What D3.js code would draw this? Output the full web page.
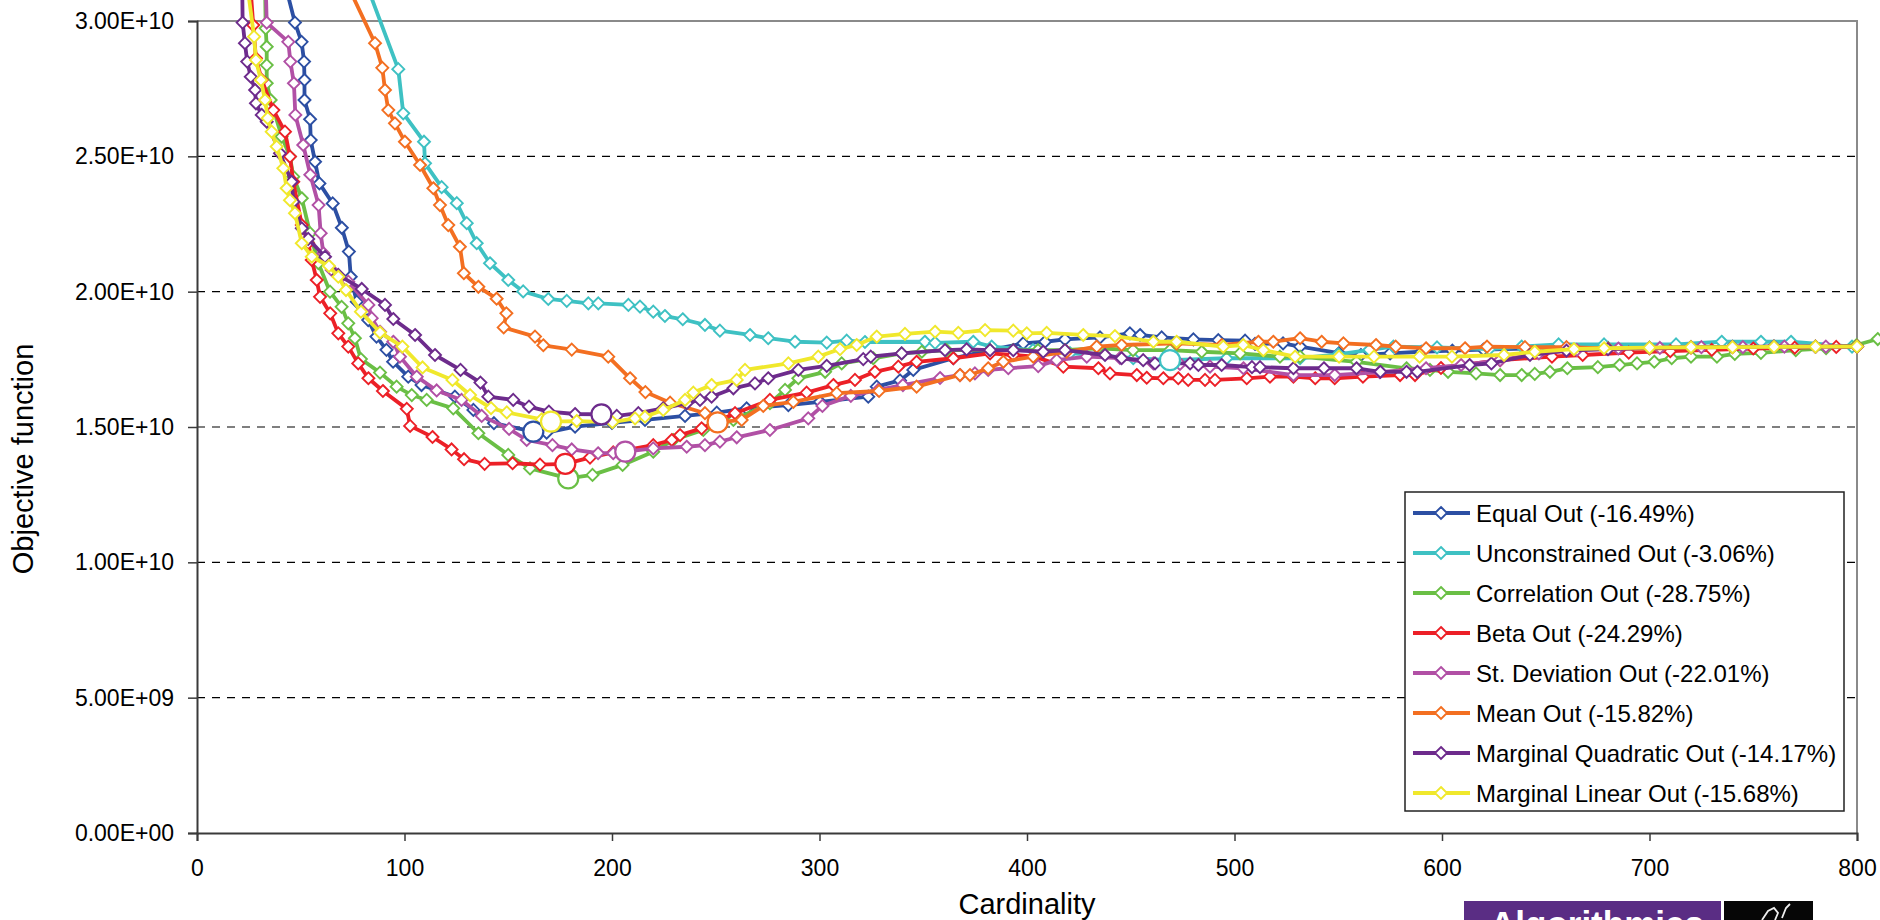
<!DOCTYPE html>
<html>
<head>
<meta charset="utf-8">
<script src="https://cdn.jsdelivr.net/npm/d3@7"></script>
<style>
  body { margin: 0; background: #fff; }
  svg { display: block; font-family: 'Liberation Sans', Arial, sans-serif; }
</style>
</head>
<body>
<svg width="1880" height="920"></svg>
<script>
// values are in units of 1e10, cardinality on x
var equalOut = [[37, 3.3], [47.2, 2.994], [50.4, 2.923], [51.6, 2.85], [51.8, 2.782], [51.8, 2.708], [54.5, 2.637], [54.8, 2.56], [56.9, 2.48], [59, 2.4], [65.4, 2.326], [69.8, 2.236], [73.2, 2.148], [74.1, 2.055], [77, 1.963], [82.5, 1.895], [86.5, 1.834], [91.3, 1.785], [94.5, 1.741], [101.8, 1.686], [108.2, 1.655], [124.3, 1.612], [133.2, 1.563], [143.1, 1.514], [162.1, 1.483], [168.5, 1.479], [182.2, 1.501], [200, 1.515], [215.9, 1.526], [235.2, 1.541], [250.5, 1.553], [264.9, 1.569], [285, 1.581], [300.2, 1.593], [323.5, 1.612], [327.6, 1.649], [338.8, 1.672], [345.2, 1.711], [364.5, 1.754], [382.2, 1.784], [398.2, 1.809], [408.7, 1.815], [418.3, 1.824], [435.2, 1.831], [449.6, 1.846], [454.5, 1.84], [464.9, 1.831], [480.2, 1.824], [492.2, 1.821], [505.1, 1.819], [509.9, 1.807], [523.4, 1.809], [531.6, 1.797], [550.4, 1.773], [560.9, 1.766], [575, 1.772], [590, 1.778], [605, 1.782], [620, 1.786], [640, 1.79], [660, 1.79], [680, 1.792], [700, 1.793], [720, 1.795], [740, 1.796], [760, 1.797], [780, 1.797], [800, 1.798]]

var unconstrainedOut = [[73.6, 3.3], [97, 2.822], [99.4, 2.659], [109.4, 2.554], [109.9, 2.474], [117.9, 2.386], [125.2, 2.327], [130, 2.253], [134.8, 2.179], [141.2, 2.105], [150, 2.043], [157.2, 2.001], [169.3, 1.973], [178.2, 1.966], [188.6, 1.957], [193.4, 1.957], [207.9, 1.951], [213.5, 1.945], [219.9, 1.926], [225.5, 1.91], [234.1, 1.898], [244.8, 1.877], [252, 1.856], [266.5, 1.84], [275.3, 1.828], [288.2, 1.815], [303.5, 1.812], [313.1, 1.819], [321.9, 1.814], [350.8, 1.815], [355.7, 1.811], [374.1, 1.815], [383, 1.797], [402.9, 1.784], [420.7, 1.773], [451.2, 1.754], [468.9, 1.747], [496.2, 1.754], [531.6, 1.754], [550, 1.768], [565, 1.785], [576.6, 1.797], [597.6, 1.794], [622.7, 1.788], [638.4, 1.797], [656.2, 1.805], [678.1, 1.805], [712.8, 1.805], [734.8, 1.815], [753.7, 1.815], [768.2, 1.815], [797.6, 1.797]]

var correlationOut = [[32.5, 3.3], [33.1, 2.973], [33.6, 2.905], [33.6, 2.837], [33.6, 2.77], [35.5, 2.708], [40.8, 2.573], [44.8, 2.499], [46.4, 2.425], [50.5, 2.345], [54.5, 2.216], [58.5, 2.105], [64.1, 2.0], [69.7, 1.944], [72.9, 1.883], [76.1, 1.828], [79, 1.751], [88.2, 1.701], [96.2, 1.649], [103.5, 1.618], [110.7, 1.6], [123.5, 1.569], [135.6, 1.477], [150, 1.397], [160.5, 1.347], [178.9, 1.31], [190.6, 1.323], [205.1, 1.36], [219.9, 1.409], [229.5, 1.452], [244, 1.489], [258.5, 1.526], [276.1, 1.588], [283.4, 1.637], [289.8, 1.68], [302.7, 1.704], [310.7, 1.735], [325.9, 1.754], [339.6, 1.772], [349.3, 1.778], [361.3, 1.784], [382.2, 1.784], [393.3, 1.784], [405.3, 1.784], [418.3, 1.784], [434.2, 1.791], [451.1, 1.784], [468.9, 1.784], [484.2, 1.778], [502.7, 1.772], [521.9, 1.76], [531.6, 1.76], [558.8, 1.741], [582.9, 1.717], [594.2, 1.711], [602.9, 1.704], [616.4, 1.698], [628, 1.692], [638.4, 1.692], [644.7, 1.696], [652, 1.704], [660.4, 1.717], [675.1, 1.721], [685.6, 1.729], [694, 1.735], [702.3, 1.741], [710.7, 1.754], [720, 1.76], [732.5, 1.76], [741.1, 1.77], [753.7, 1.774], [770.5, 1.784], [785.1, 1.791], [799.8, 1.803], [810, 1.825]]

var betaOut = [[24.1, 3.3], [27.1, 2.985], [28.4, 2.862], [31.2, 2.782], [36.8, 2.671], [42.4, 2.591], [44.8, 2.499], [46.4, 2.406], [50.5, 2.246], [53.6, 2.179], [55.3, 2.117], [57.7, 2.043], [59.3, 1.981], [64.2, 1.92], [68.1, 1.846], [72.9, 1.797], [77.7, 1.735], [82.6, 1.68], [89.6, 1.633], [101.1, 1.567], [102.7, 1.504], [113.5, 1.463], [122.7, 1.417], [128.7, 1.381], [138.6, 1.364], [152.1, 1.366], [165.3, 1.361], [177.5, 1.364], [189.4, 1.387], [200.6, 1.406], [219.9, 1.433], [228.8, 1.452], [232.8, 1.47], [243.2, 1.495], [259.3, 1.551], [276.1, 1.6], [293.8, 1.627], [306.7, 1.655], [317.1, 1.674], [326.7, 1.704], [338, 1.723], [346.8, 1.741], [364.5, 1.754], [382.2, 1.772], [393.4, 1.766], [403.9, 1.76], [417.5, 1.723], [434.4, 1.717], [440, 1.698], [452.9, 1.692], [457.7, 1.682], [465.7, 1.68], [472.9, 1.68], [477.7, 1.674], [485.8, 1.674], [490.6, 1.674], [505.9, 1.68], [517.1, 1.686], [528.4, 1.686], [538.9, 1.68], [548.3, 1.68], [561.9, 1.686], [579.8, 1.692], [587, 1.692], [599.5, 1.718], [628, 1.747], [653, 1.76], [667.8, 1.766], [690, 1.775], [710, 1.78], [730, 1.785], [750, 1.79], [770, 1.793], [790, 1.796], [800, 1.797]]

var stDeviationOut = [[32.5, 3.3], [33.6, 2.994], [44, 2.923], [45, 2.85], [46.7, 2.77], [47.4, 2.653], [51.2, 2.542], [54.6, 2.432], [58.6, 2.32], [59.6, 2.216], [60.9, 2.142], [64.9, 2.08], [72.9, 2.037], [82.6, 1.951], [84.2, 1.902], [88.2, 1.852], [94.6, 1.815], [97.8, 1.76], [105.9, 1.686], [115.5, 1.635], [127.5, 1.6], [137.2, 1.541], [150.4, 1.493], [158.9, 1.452], [171.3, 1.433], [180.6, 1.417], [193.3, 1.403], [200.6, 1.403], [206.4, 1.409], [219.9, 1.421], [236, 1.427], [244.8, 1.433], [252, 1.446], [260.1, 1.462], [276.1, 1.489], [294.6, 1.532], [301.4, 1.578], [315.1, 1.615], [328.3, 1.637], [340.2, 1.655], [358.1, 1.681], [367.7, 1.692], [374.9, 1.698], [381.3, 1.711], [391, 1.717], [405.4, 1.725], [414.3, 1.747], [428.8, 1.76], [444.8, 1.755], [460.9, 1.735], [473.7, 1.733], [488.2, 1.723], [504.3, 1.717], [528.4, 1.692], [548.3, 1.692], [570, 1.703], [592.3, 1.717], [609.2, 1.729], [628, 1.747], [646.7, 1.772], [665, 1.785], [685, 1.79], [705, 1.792], [725, 1.795], [745, 1.795], [765, 1.797], [785, 1.797], [800, 1.797]]

var meanOut = [[62.2, 3.3], [85.8, 2.918], [89.3, 2.827], [90.6, 2.745], [92.2, 2.671], [95.4, 2.622], [100.2, 2.554], [107.5, 2.468], [113.9, 2.382], [117.1, 2.32], [121.1, 2.246], [126.7, 2.166], [128.6, 2.068], [135.6, 2.018], [144.4, 1.974], [149.1, 1.92], [147.8, 1.868], [162.9, 1.834], [166.9, 1.802], [180.6, 1.786], [198.2, 1.76], [208.7, 1.68], [216.1, 1.629], [228, 1.59], [244.8, 1.551], [250.9, 1.517], [262.5, 1.526], [272.9, 1.578], [287.4, 1.593], [308.3, 1.625], [328.7, 1.633], [346.8, 1.649], [367.7, 1.692], [372.5, 1.692], [381.3, 1.717], [388.6, 1.741], [403, 1.76], [419.1, 1.778], [433.6, 1.797], [445.6, 1.803], [472.1, 1.809], [493.8, 1.803], [511.5, 1.815], [518.7, 1.815], [531.6, 1.828], [542, 1.815], [552.5, 1.809], [568.2, 1.803], [577.7, 1.797], [592.3, 1.791], [611.1, 1.791], [621.7, 1.797], [640, 1.795], [660, 1.795], [680, 1.79], [700, 1.79], [720, 1.793], [740, 1.795], [760, 1.797], [780, 1.797], [800, 1.797]]

var marginalQuadraticOut = [[21.5, 3.3], [22, 2.994], [23.1, 2.918], [24.2, 2.85], [25.9, 2.794], [28, 2.745], [28.4, 2.696], [31.2, 2.653], [33.6, 2.628], [40, 2.511], [45.6, 2.406], [46.4, 2.332], [50.5, 2.234], [53.6, 2.195], [61.7, 2.129], [68.1, 2.062], [79.4, 2.01], [90.6, 1.951], [94.6, 1.899], [105.1, 1.84], [114.7, 1.766], [127, 1.711], [136.6, 1.664], [140.4, 1.612], [152.4, 1.6], [160, 1.575], [169.6, 1.557], [182.2, 1.548], [194.9, 1.547], [202.3, 1.541], [212.7, 1.551], [224.7, 1.569], [236, 1.588], [242.4, 1.6], [248, 1.612], [258.5, 1.643], [268.9, 1.661], [275.3, 1.68], [289.8, 1.711], [303.5, 1.726], [321.1, 1.751], [324.7, 1.76], [339.6, 1.772], [360.5, 1.784], [370.9, 1.787], [382.2, 1.784], [393.4, 1.784], [407.8, 1.778], [418.3, 1.784], [437.6, 1.766], [445.6, 1.754], [456, 1.747], [461.7, 1.735], [478.6, 1.735], [482.6, 1.729], [493.8, 1.729], [508.4, 1.721], [512.3, 1.721], [528.4, 1.717], [543.1, 1.717], [558.8, 1.717], [570.3, 1.704], [582.9, 1.704], [588.1, 1.704], [613.3, 1.729], [623.8, 1.735], [642.4, 1.766], [660, 1.782], [680, 1.788], [700, 1.792], [720, 1.795], [740, 1.796], [760, 1.797], [780, 1.797], [800, 1.797]]

var marginalLinearOut = [[21.4, 3.3], [27.5, 2.942], [28.4, 2.856], [30.8, 2.782], [32.8, 2.708], [34.1, 2.641], [36, 2.591], [38.4, 2.536], [41.6, 2.456], [43.2, 2.382], [44.8, 2.338], [47.2, 2.29], [50.5, 2.179], [55.3, 2.129], [63.6, 2.095], [68.1, 2.055], [71.8, 2.006], [79, 1.926], [88.2, 1.849], [99, 1.797], [108.7, 1.72], [123.1, 1.674], [131.6, 1.618], [141.7, 1.57], [149.3, 1.554], [166.1, 1.528], [170.6, 1.52], [183, 1.522], [200.2, 1.518], [211.1, 1.532], [215.9, 1.538], [224.7, 1.563], [235.2, 1.6], [239.2, 1.627], [248, 1.655], [260.1, 1.674], [264.1, 1.711], [285, 1.735], [299.4, 1.76], [309.9, 1.788], [317.9, 1.803], [327.6, 1.834], [341.2, 1.844], [355.7, 1.852], [366.9, 1.848], [379.8, 1.858], [393.4, 1.856], [399.9, 1.846], [409.5, 1.848], [427.1, 1.84], [442.4, 1.836], [460.9, 1.815], [472.1, 1.815], [494.6, 1.797], [504.2, 1.803], [513.9, 1.784], [529.2, 1.76], [550.4, 1.76], [567.2, 1.76], [589.2, 1.76], [604.8, 1.76], [629.9, 1.766], [644.7, 1.778], [663.6, 1.788], [678.1, 1.791], [700, 1.793], [720, 1.795], [740, 1.795], [760, 1.796], [780, 1.797], [800, 1.797]]

var seriesNames = ['Equal Out (-16.49%)', 'Unconstrained Out (-3.06%)', 'Correlation Out (-28.75%)', 'Beta Out (-24.29%)',
  'St. Deviation Out (-22.01%)', 'Mean Out (-15.82%)', 'Marginal Quadratic Out (-14.17%)', 'Marginal Linear Out (-15.68%)']
var seriesColors = ['#2c4fa3', '#3ec1c3', '#6abf45', '#ec2027', '#b150a5', '#f36f21', '#6d2b8c', '#f0e82c']

// minimum of each series, marked with a circle
var bestCard = [162.1, 468.9, 178.9, 177.5, 206.4, 250.9, 194.9, 170.6]
var bestValue = [1.483, 1.747, 1.31, 1.364, 1.409, 1.517, 1.547, 1.52]

var xTicks = [0, 100, 200, 300, 400, 500, 600, 700, 800]
var yTicks = [0, 0.5, 1, 1.5, 2, 2.5, 3]

var allData = [equalOut, unconstrainedOut, correlationOut, betaOut, stDeviationOut, meanOut, marginalQuadraticOut, marginalLinearOut]
var series = allData.map((d, i) => ({ name: seriesNames[i], color: seriesColors[i], pts: d, best: [bestCard[i], bestValue[i]] }))

var svg = d3.select('svg')
var plotL = 197
var plotR = 1857
var plotT = 21
var plotB = 833

var x = d3.scaleLinear().domain([0, 800]).range([plotL, plotR])
var y = d3.scaleLinear().domain([0, 3]).range([plotB, plotT])

function sci (v) {
  var s = (v * 1e10).toExponential(2).toUpperCase()
  return s.replace(/E([+-])(\d+)$/, (m, sg, e) => 'E' + sg + (e.length < 2 ? '0' + e : e))
}

// dashed grid
svg.append('g')
  .selectAll('line')
  .data(yTicks.filter((t) => t > 0 && t < 3))
  .enter().append('line')
  .attr('x1', plotL).attr('x2', plotR)
  .attr('y1', (d) => y(d)).attr('y2', (d) => y(d))
  .style('stroke', '#000')
  .style('stroke-width', 1.2)
  .style('stroke-dasharray', '8,7')

// top and right plot border
svg.append('path')
  .attr('d', 'M' + plotL + ',' + plotT + 'H' + plotR + 'V' + plotB)
  .style('fill', 'none')
  .style('stroke', '#8a8a8a')
  .style('stroke-width', 2)

var yAxis = svg.append('g')
  .attr('transform', 'translate(' + plotL + ',0)')
  .call(d3.axisLeft(y).tickValues(yTicks).tickSize(9).tickPadding(14).tickFormat(sci))

var xAxis = svg.append('g')
  .attr('transform', 'translate(0,' + plotB + ')')
  .call(d3.axisBottom(x).tickValues(xTicks).tickSize(8).tickPadding(19).tickFormat(d3.format('d')))

svg.selectAll('.domain').style('stroke', '#3a3a3a').style('stroke-width', 2)
svg.selectAll('.tick line').style('stroke', '#3a3a3a').style('stroke-width', 1.5)
yAxis.attr('font-family', null).attr('font-size', null)
xAxis.attr('font-family', null).attr('font-size', null)
yAxis.selectAll('text').style('font-size', '23px').style('fill', '#000')
xAxis.selectAll('text').style('font-size', '23px').style('fill', '#000')

svg.append('text')
  .attr('transform', 'translate(33,459) rotate(-90)')
  .attr('text-anchor', 'middle')
  .style('font-size', '29px')
  .text('Objective function')

svg.append('text')
  .attr('x', (plotL + plotR) / 2)
  .attr('y', 914)
  .attr('text-anchor', 'middle')
  .style('font-size', '29px')
  .text('Cardinality')

var line = d3.line()
  .x((d) => x(d[0]))
  .y((d) => y(d[1]))

var diamond = 'M0,-6L6,0L0,6L-6,0Z'

var seriesGr = svg.append('g')

series.forEach((s) => {
  var g = seriesGr.append('g')
  g.append('path')
    .attr('d', line(s.pts))
    .style('fill', 'none')
    .style('stroke', s.color)
    .style('stroke-width', 3.8)
    .style('stroke-linejoin', 'round')
  g.selectAll('path.pt')
    .data(s.pts.filter((d) => d[1] <= 3.05))
    .enter().append('path')
    .attr('class', 'pt')
    .attr('d', diamond)
    .attr('transform', (d) => 'translate(' + x(d[0]) + ',' + y(d[1]) + ')')
    .style('fill', '#fff')
    .style('stroke', s.color)
    .style('stroke-width', 1.9)
})

svg.append('g')
  .selectAll('circle')
  .data(series)
  .enter().append('circle')
  .attr('cx', (d) => x(d.best[0]))
  .attr('cy', (d) => y(d.best[1]))
  .attr('r', 10)
  .style('fill', '#fff')
  .style('stroke', (d) => d.color)
  .style('stroke-width', 2.2)

// legend
var legend = svg.append('g')
  .attr('transform', 'translate(1405,492)')

legend.append('rect')
  .attr('width', 439)
  .attr('height', 319)
  .style('fill', '#fff')
  .style('stroke', '#222')
  .style('stroke-width', 1.5)

var rows = legend.selectAll('g.row')
  .data(series)
  .enter().append('g')
  .attr('class', 'row')
  .attr('transform', (d, i) => 'translate(0,' + (21 + i * 40) + ')')

rows.append('line')
  .attr('x1', 8).attr('x2', 65)
  .style('stroke', (d) => d.color)
  .style('stroke-width', 3.8)

rows.append('path')
  .attr('d', diamond)
  .attr('transform', 'translate(36,0)')
  .style('fill', '#fff')
  .style('stroke', (d) => d.color)
  .style('stroke-width', 1.9)

rows.append('text')
  .attr('x', 71)
  .attr('y', 9)
  .style('font-size', '24px')
  .text((d) => d.name)

// footer badge, cut by the page edge
svg.append('clipPath')
  .attr('id', 'badge')
  .append('rect')
  .attr('x', 1464).attr('y', 901)
  .attr('width', 257).attr('height', 19)

svg.append('rect')
  .attr('x', 1464).attr('y', 901)
  .attr('width', 257).attr('height', 19)
  .style('fill', '#5a2d84')

svg.append('text')
  .attr('x', 1490)
  .attr('y', 936)
  .attr('clip-path', 'url(#badge)')
  .style('font-size', '35px')
  .style('font-weight', 'bold')
  .style('fill', '#fff')
  .text('Algorithmics')

svg.append('rect')
  .attr('x', 1724).attr('y', 901)
  .attr('width', 89).attr('height', 19)
  .style('fill', '#060606')

svg.append('path')
  .attr('d', 'M1762,920 L1768,911 L1774,908 L1778,913 L1775,920 M1782,918 L1786,908 L1790,904')
  .style('fill', 'none')
  .style('stroke', '#eee')
  .style('stroke-width', 1.8)
</script>
</body>
</html>
